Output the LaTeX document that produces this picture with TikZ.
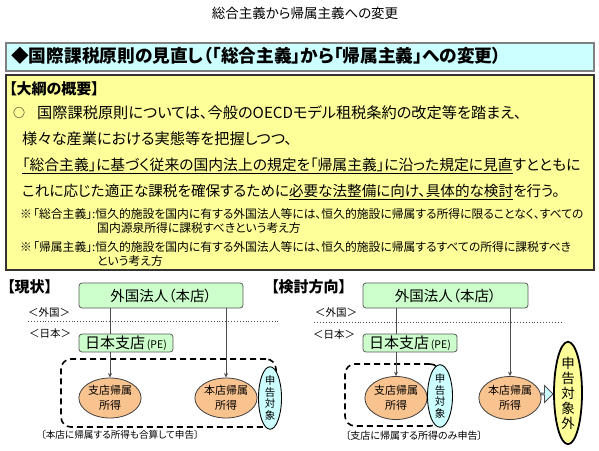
\documentclass[tikz,border=0pt]{standalone}
\usepackage{fontspec}
\setmainfont{Noto Sans CJK JP}[RawFeature=+palt]
\usetikzlibrary{shapes.geometric,shapes.arrows,arrows.meta}
\definecolor{hdrcyan}{HTML}{CCFFFF}
\definecolor{boxyellow}{HTML}{FFFF99}
\definecolor{pegreen}{HTML}{CCFFCC}
\definecolor{incorange}{HTML}{F9C38F}
\definecolor{outyellow}{HTML}{FFFF99}
\newcommand\fs[2]{\fontsize{#1}{#2}\selectfont}
\newcommand\myul[1]{\setbox0\hbox{#1}\rlap{\rule[-4pt]{\wd0}{1.1pt}}\box0}
\tikzset{
  txt/.style={inner sep=0pt, anchor=west},
  greenbox/.style={draw=black!65, fill=pegreen, rounded corners=3pt, line width=0.8pt, inner sep=1pt},
  incell/.style={ellipse, draw=black!75, fill=incorange, line width=0.8pt, inner sep=0pt, align=center, font=\fs{11}{15}},
  tagell/.style={ellipse, draw=black, fill=hdrcyan, line width=0.9pt, inner sep=0pt, align=center, font=\fs{10.5}{11.5}},
  outell/.style={ellipse, draw=black, fill=outyellow, line width=1.8pt, inner sep=0pt, align=center, font=\fs{13.5}{15}},
  grp/.style={draw=black, line width=1.6pt, dash pattern=on 6pt off 4pt, rounded corners=10pt, inner sep=0pt},
  conn/.style={draw=black!70, line width=0.7pt},
  arr/.style={conn, -{Stealth[length=4.5pt,width=4pt]}},
  sep/.style={draw=black!70, line width=0.9pt, dotted},
}
\begin{document}
\begin{tikzpicture}[x=1pt,y=-1pt]
\useasboundingbox (0,0) rectangle (599,450);
% title
\node[inner sep=0pt] (title) at (305,13) {\fs{13.5}{16}総合主義から帰属主義への変更};
% header box
\node[draw=black!50, line width=2pt, fill=hdrcyan, minimum width=588, minimum height=28, anchor=north west, inner sep=0pt] (hdr) at (5,42) {};
\node[txt] (hdrtxt) at (11,56) {\bfseries\fs{17.7}{21}◆国際課税原則の見直し（「総合主義」から「帰属主義」への変更）};
% yellow box
\node[draw=black!80, line width=2pt, fill=boxyellow, minimum width=588, minimum height=195, anchor=north west, inner sep=0pt] (outline) at (5,74) {};
\node[txt] (sum) at (9,89) {\bfseries\fs{15}{18}【大綱の概要】};
\node[inner sep=0pt] (bul) at (19,113) {\fs{12}{14}○};
\node[txt] (l1) at (37,113) {\fs{15.2}{18}国際課税原則については、今般のOECDモデル租税条約の改定等を踏まえ、};
\node[txt] (l2) at (22,139) {\fs{15.2}{18}様々な産業における実態等を把握しつつ、};
\node[txt] (l3) at (22,166) {\fs{14.8}{18}\myul{「総合主義」に基づく従来の国内法上の規定を「帰属主義」に沿った規定に見直}すとともに};
\node[txt] (l4) at (22,192) {\fs{14.6}{18}これに応じた適正な課税を確保するために\myul{必要な法整備に向け、具体的な検討}を行う。};
\node[inner sep=0pt] (n1m) at (26,214) {\fs{11.8}{13}※};
\node[txt] (n1) at (33,214) {\fs{11.8}{13}「総合主義」:恒久的施設を国内に有する外国法人等には、恒久的施設に帰属する所得に限ることなく、すべての};
\node[txt] (n1b) at (97,228) {\fs{11.8}{13}国内源泉所得に課税すべきという考え方};
\node[inner sep=0pt] (n2m) at (26,247) {\fs{11.8}{13}※};
\node[txt] (n2) at (33,247) {\fs{11.8}{13}「帰属主義」:恒久的施設を国内に有する外国法人等には、恒久的施設に帰属するすべての所得に課税すべき};
\node[txt] (n2b) at (97,261) {\fs{11.8}{13}という考え方};

% ===== left: current =====
\node[txt] (cur) at (7,287) {\bfseries\fs{15}{18}【現状】};
\node[greenbox, minimum width=164, minimum height=25] (hq1) at (161,295.5) {\fs{14.5}{16}外国法人（本店）};
\node[inner sep=0pt] (fa1) at (49,312) {\fs{10.5}{12}＜外国＞};
\coordinate (d1a) at (28,321);
\coordinate (d1b) at (278,321);
\draw[sep] (d1a) -- (d1b);
\node[inner sep=0pt] (jp1) at (50,334) {\fs{10.5}{12}＜日本＞};
\node[greenbox, minimum width=94, minimum height=18] (pe1) at (126,343) {\fs{15}{16}日本支店{\fs{10.5}{12}\,(PE)}};
\node[grp, minimum width=215, minimum height=68] (g1) at (168.5,393) {};
\node[incell, minimum width=55, minimum height=40] (inc1) at (110,398) {支店帰属\\所得};
\node[incell, minimum width=55, minimum height=40] (inc2) at (226,398) {本店帰属\\所得};
\node[tagell, minimum width=23, minimum height=52] (tag1) at (270,398) {申\\告\\対\\象};
\draw[conn] (inc1.north |- hq1.south) -- (inc1.north |- pe1.north);
\draw[arr] (inc1.north |- pe1.south) -- (inc1.north);
\draw[arr] (inc2.north |- hq1.south) -- (inc2.north);
\node[inner sep=0pt] (cap1) at (120,435) {\fs{9.6}{12}〔本店に帰属する所得も合算して申告〕};

% ===== right: direction =====
\node[txt] (dir) at (271,287) {\bfseries\fs{15}{18}【検討方向】};
\node[greenbox, minimum width=165, minimum height=25] (hq2) at (445.5,295.5) {\fs{14.5}{16}外国法人（本店）};
\node[inner sep=0pt] (fa2) at (336,312) {\fs{10.5}{12}＜外国＞};
\coordinate (d2a) at (314,322);
\coordinate (d2b) at (563,322);
\draw[sep] (d2a) -- (d2b);
\node[inner sep=0pt] (jp2) at (334,335) {\fs{10.5}{12}＜日本＞};
\node[greenbox, minimum width=94, minimum height=18] (pe2) at (410,343) {\fs{15}{16}日本支店{\fs{10.5}{12}\,(PE)}};
\node[grp, minimum width=95, minimum height=62] (g2) at (392.5,395) {};
\node[incell, minimum width=52, minimum height=43] (inc3) at (396,398) {支店帰属\\所得};
\node[tagell, minimum width=25, minimum height=58] (tag2) at (440,396) {申\\告\\対\\象};
\node[incell, minimum width=55, minimum height=43] (inc4) at (510,398) {本店帰属\\所得};
\node[outell, minimum width=28, minimum height=93] (out) at (568,393) {申\\告\\対\\象\\外};
\node[single arrow, draw=black!70, fill=hdrcyan, line width=0.8pt, minimum height=12, minimum width=17, single arrow head extend=3.5pt, inner sep=0pt] (blk) at (546.5,394) {};
\draw[conn] (inc3.north |- hq2.south) -- (inc3.north |- pe2.north);
\draw[arr] (inc3.north |- pe2.south) -- (inc3.north);
\draw[arr] (inc4.north |- hq2.south) -- (inc4.north);
\node[inner sep=0pt] (cap2) at (414,436) {\fs{10}{12}〔支店に帰属する所得のみ申告〕};
\end{tikzpicture}
\end{document}
